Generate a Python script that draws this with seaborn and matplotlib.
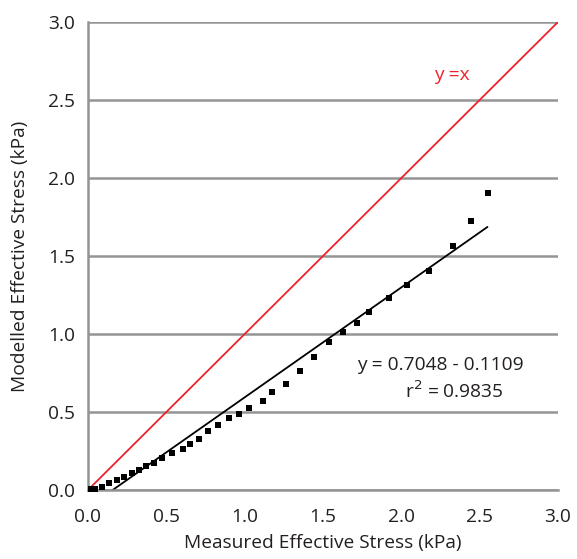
import numpy as np
import pandas as pd
import matplotlib
matplotlib.use("Agg")
import matplotlib.pyplot as plt
import seaborn as sns

# measured vs modelled effective stress (kPa)
measured = [0.019, 0.045, 0.087, 0.134, 0.185, 0.232, 0.281, 0.325, 0.370, 0.421,
            0.472, 0.536, 0.606, 0.651, 0.708, 0.763, 0.830, 0.900, 0.964, 1.027,
            1.117, 1.174, 1.264, 1.353, 1.442, 1.538, 1.630, 1.715, 1.793, 1.921,
            2.034, 2.179, 2.329, 2.444, 2.553]
modelled = [0.006, 0.006, 0.019, 0.045, 0.064, 0.085, 0.109, 0.128, 0.156, 0.175,
            0.207, 0.237, 0.263, 0.295, 0.327, 0.378, 0.417, 0.462, 0.487, 0.526,
            0.571, 0.628, 0.679, 0.763, 0.853, 0.949, 1.013, 1.071, 1.141, 1.231,
            1.317, 1.406, 1.564, 1.724, 1.904]

slope = 0.7048
intercept = -0.1109
r2 = 0.9835
fit_range = [0.1576, 2.55]
identity_range = [0.0, 3.0]
ticks = [0.0, 0.5, 1.0, 1.5, 2.0, 2.5, 3.0]

df = pd.DataFrame({"Measured": measured, "Modelled": modelled})
fit_x = np.array(fit_range)
fit_df = pd.DataFrame({"x": fit_x, "y": slope * fit_x + intercept})
one_df = pd.DataFrame({"x": identity_range, "y": identity_range})

sns.set_style("white")
plt.rcParams['font.family'] = ['Open Sans', 'DejaVu Sans']
ink = "#231f20"
plt.rcParams['text.color'] = ink
plt.rcParams['axes.labelcolor'] = ink
plt.rcParams['xtick.labelcolor'] = ink
plt.rcParams['ytick.labelcolor'] = ink
fs = 13.8

fig = plt.figure(figsize=(5.77, 5.59), dpi=100)
ax = fig.add_axes([0.1525, 0.1234, 0.8145, 0.8372])

ax.set_axisbelow(True)
ax.yaxis.grid(True, color="#949494", linewidth=1.8)
ax.xaxis.grid(False)

sns.lineplot(data=one_df, x="x", y="y", color="#ee2229", linewidth=1.3, ax=ax)
sns.lineplot(data=fit_df, x="x", y="y", color="black", linewidth=1.3, ax=ax)
sns.scatterplot(data=df, x="Measured", y="Modelled", marker="s", s=22,
                color="black", linewidth=0, ax=ax, zorder=5, clip_on=False)

ax.set_xlim(0, 3.0)
ax.set_ylim(0, 3.0)
ax.set_xticks(ticks)
ax.set_yticks(ticks)
ax.set_xticklabels([f"{t:.1f}" for t in ticks])
ax.set_yticklabels([f"{t:.1f}" for t in ticks])
ax.tick_params(axis="x", direction="in", length=4, width=1.2, color="#949494",
               labelsize=fs, pad=13)
ax.tick_params(axis="y", length=0, labelsize=fs, pad=9)

for s in ["top", "right"]:
    ax.spines[s].set_visible(False)
for s in ["left", "bottom"]:
    ax.spines[s].set_color("#949494")
    ax.spines[s].set_linewidth(1.8)

ax.set_xlabel("Measured Effective Stress (kPa)", fontsize=fs, labelpad=6)
ax.set_ylabel("Modelled Effective Stress (kPa)", fontsize=fs, labelpad=14)

ax.text(2.32, 2.66, "y =x", color="#ee2229", fontsize=fs, ha="center", va="center")
ax.text(2.25, 0.80, f"y = {slope:.4f} - {abs(intercept):.4f}", fontsize=fs,
        ha="center", va="center")
ax.text(2.34, 0.63, f"r$^2$ = {r2:.4f}", fontsize=fs, ha="center", va="center")

fig.savefig("out.png", dpi=100)
